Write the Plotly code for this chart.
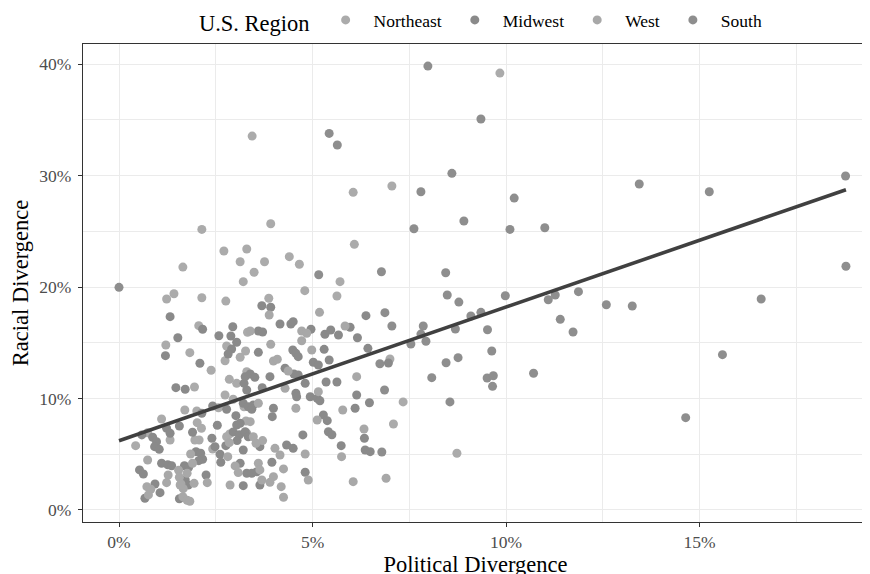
import numpy as np
import plotly.graph_objects as go

# Political divergence (%) , Racial divergence (%) per area, grouped by U.S. region
northeast = [
    (9.84, 39.19), (3.44, 33.54), (6.05, 28.49), (7.05, 29.06), (3.92, 25.68), (2.14, 25.17),
    (6.08, 23.83), (7.00, 13.54), (7.34, 9.69), (7.09, 7.71), (8.73, 5.09), (2.71, 23.23),
    (3.30, 23.41), (3.13, 22.27), (1.65, 21.79), (3.21, 20.48), (1.23, 18.92), (1.42, 19.40),
    (2.14, 19.04), (2.76, 18.74), (3.76, 22.27), (3.49, 21.32), (4.40, 22.72), (4.66, 22.04),
    (5.71, 20.48), (4.80, 19.67), (5.63, 19.19), (3.87, 18.99), (2.06, 16.53), (3.32, 15.94),
    (1.21, 14.80), (1.83, 14.11), (2.78, 14.71), (2.74, 13.39), (3.27, 14.26), (3.13, 13.70),
    (2.38, 12.53), (3.30, 12.40), (2.85, 11.72), (3.04, 11.36), (1.95, 11.03), (2.74, 10.31),
    (2.95, 9.93), (1.70, 8.97), (2.01, 8.88), (2.57, 9.17), (3.23, 9.26), (1.10, 8.16),
    (2.02, 7.83), (2.13, 7.33), (3.28, 7.98), (2.07, 6.28), (2.86, 6.82), (2.78, 6.57),
    (3.30, 6.88), (0.74, 6.93), (0.43, 5.77), (1.32, 6.28), (1.96, 6.28), (2.42, 5.47),
]
midwest = [
    (3.69, 18.32), (3.92, 18.18), (1.32, 17.34), (2.16, 16.21), (2.94, 16.44), (2.58, 15.63),
    (2.89, 15.61), (3.04, 15.04), (1.52, 15.45), (1.20, 13.84), (2.91, 14.44), (2.82, 13.99),
    (2.09, 13.16), (3.26, 11.96), (1.47, 10.97), (1.71, 10.83), (3.30, 10.76), (2.14, 8.67),
    (2.42, 9.33), (2.78, 9.03), (3.02, 8.46), (1.56, 7.53), (2.54, 7.60), (3.04, 7.62),
    (1.23, 7.33), (1.32, 6.88), (1.90, 6.97), (2.95, 7.00), (3.11, 6.75), (0.59, 6.73),
    (0.87, 6.52), (0.97, 6.13), (0.92, 5.68), (1.04, 5.44), (2.40, 6.43), (2.48, 5.68),
    (2.61, 5.00), (2.76, 5.77), (3.05, 6.22), (3.21, 5.38), (1.99, 5.23), (2.11, 5.09),
    (2.16, 4.55), (1.10, 4.19), (1.26, 4.06), (1.36, 3.97), (1.69, 3.97), (1.80, 3.83),
    (2.06, 4.42), (2.25, 3.14), (2.63, 4.28), (3.13, 4.19), (3.30, 3.29), (0.53, 3.59),
    (0.63, 3.23), (1.71, 2.72), (1.79, 2.24), (3.21, 2.18), (0.93, 2.33), (1.06, 1.55),
    (0.67, 1.05), (1.56, 1.01), (6.38, 17.43), (4.16, 16.68), (4.44, 16.68), (4.50, 16.89),
    (3.60, 16.05), (3.71, 15.96), (4.96, 16.21), (5.32, 15.76), (5.47, 16.14), (5.67, 15.70),
    (5.97, 16.39), (6.16, 15.45), (5.30, 14.41), (6.43, 14.50), (3.60, 14.14), (4.49, 14.35),
    (4.57, 14.05), (4.63, 13.75), (5.02, 13.25), (5.15, 13.00), (5.43, 13.45), (3.39, 12.20),
    (3.51, 11.90), (3.90, 11.96), (4.29, 12.71), (4.52, 12.20), (4.63, 12.11), (4.81, 11.36),
    (5.35, 11.48), (5.63, 11.48), (6.96, 13.18), (3.23, 11.36), (3.70, 10.97), (4.57, 10.47),
    (4.59, 10.16), (4.94, 10.16), (5.12, 10.02), (5.19, 9.80), (6.14, 10.31), (6.47, 9.62),
    (3.21, 9.57), (3.34, 9.26), (3.47, 9.42), (3.43, 9.03), (3.99, 9.12), (3.96, 8.37),
    (6.10, 9.12), (5.28, 8.52), (5.38, 8.01), (3.13, 7.78), (4.75, 6.73), (3.26, 7.02),
    (3.34, 6.57), (5.41, 7.02), (5.50, 6.75), (5.74, 5.77), (6.34, 6.43), (6.36, 5.38),
    (6.49, 5.23), (3.64, 5.68), (4.33, 5.83), (4.50, 5.53), (3.95, 4.28), (3.43, 3.29),
    (3.56, 3.43), (4.81, 3.38), (3.64, 2.24),
]
west = [
    (2.85, 6.04), (1.85, 5.02), (0.74, 4.48), (1.54, 3.56), (1.76, 3.29), (1.90, 4.19),
    (2.81, 4.78), (3.00, 3.95), (3.08, 3.35), (1.27, 3.14), (1.23, 2.45), (1.56, 2.93),
    (1.60, 2.33), (1.94, 2.39), (2.28, 2.45), (2.87, 2.24), (0.72, 2.09), (0.82, 1.86),
    (0.76, 1.35), (1.66, 1.91), (1.65, 1.19), (1.76, 0.87), (1.83, 0.78), (1.58, 2.24),
    (3.88, 17.49), (5.18, 17.73), (3.39, 16.05), (4.72, 16.05), (4.85, 15.85), (5.84, 16.50),
    (3.92, 14.86), (4.72, 15.18), (4.98, 14.35), (3.99, 13.36), (4.09, 13.52), (4.37, 12.47),
    (6.14, 11.96), (4.29, 10.91), (5.15, 10.61), (3.60, 9.57), (4.57, 9.12), (5.78, 8.97),
    (5.12, 8.07), (3.39, 7.92), (3.47, 6.57), (6.33, 7.26), (3.54, 5.98), (3.71, 6.22),
    (4.03, 5.53), (4.16, 4.93), (4.81, 5.02), (5.75, 4.78), (3.60, 4.19), (3.64, 3.59),
    (4.25, 3.68), (3.69, 2.69), (3.99, 2.99), (3.90, 2.48), (4.19, 2.09), (4.89, 2.69),
    (6.05, 2.54), (6.90, 2.84), (4.25, 1.14),
]
south = [
    (0.00, 19.97), (7.98, 39.82), (9.35, 35.07), (5.43, 33.78), (5.64, 32.74), (7.80, 28.55),
    (8.60, 30.20), (13.44, 29.24), (15.25, 28.55), (18.77, 29.96), (18.78, 21.86), (8.91, 25.92),
    (7.62, 25.23), (10.21, 27.98), (10.10, 25.17), (11.00, 25.32), (8.44, 21.28), (6.78, 21.37),
    (5.16, 21.10), (8.48, 19.28), (8.78, 18.65), (9.98, 19.22), (11.09, 18.86), (11.27, 19.28),
    (11.87, 19.58), (12.59, 18.41), (13.26, 18.30), (16.59, 18.92), (11.73, 15.96), (15.59, 13.93),
    (14.64, 8.28), (6.87, 17.70), (7.05, 16.50), (9.09, 17.40), (9.35, 17.73), (7.86, 16.50),
    (7.80, 15.78), (8.69, 16.23), (9.52, 16.17), (11.40, 17.10), (7.54, 14.89), (7.93, 15.13),
    (6.74, 13.12), (8.45, 13.21), (8.76, 13.66), (9.63, 14.26), (8.08, 11.87), (9.51, 11.84),
    (9.67, 12.04), (9.65, 11.09), (10.71, 12.26), (6.86, 10.76), (8.55, 9.69), (6.79, 5.20),
]

regions = ["Northeast", "Midwest", "West", "South"]
region_points = [northeast, midwest, west, south]
region_colors = ["#ABABAB", "#8A8A8A", "#A8A8A8", "#8E8E8E"]

x_ticks = [0, 5, 10, 15]
x_ticklabels = ["0%", "5%", "10%", "15%"]
y_ticks = [0, 10, 20, 30, 40]
y_ticklabels = ["0%", "10%", "20%", "30%", "40%"]

FONT = "Liberation Serif"

fig = go.Figure()
all_x, all_y = [], []
for name, pts, col in zip(regions, region_points, region_colors):
    xs = [p[0] for p in pts]
    ys = [p[1] for p in pts]
    all_x += xs
    all_y += ys
    fig.add_trace(go.Scatter(
        x=xs, y=ys, mode="markers", name=name,
        marker=dict(size=9, color=col, line=dict(width=0)),
    ))

# Linear fit (geom_smooth method = lm)
slope, intercept = np.polyfit(all_x, all_y, 1)
fx = np.array([min(all_x), max(all_x)])
fig.add_trace(go.Scatter(
    x=fx, y=intercept + slope * fx, mode="lines", showlegend=False,
    line=dict(color="#404040", width=3.6), hoverinfo="skip",
))

axis_common = dict(
    showline=True, linecolor="#333333", linewidth=1.1, mirror=True,
    ticks="outside", ticklen=4, tickwidth=1.1, tickcolor="#333333",
    showgrid=True, gridcolor="#EBEBEB", gridwidth=1.1, zeroline=False,
    automargin=False,
    tickfont=dict(family=FONT, size=17.5, color="#4D4D4D"),
)

# the page body adds an 8px offset, margins compensate for it
fig.update_layout(
    width=870, height=574,
    margin=dict(l=75, r=10, t=36, b=60, autoexpand=False),
    paper_bgcolor="white", plot_bgcolor="white",
    font=dict(family=FONT, color="black"),
    xaxis=dict(
        range=[-0.93, 19.35], tickmode="array", tickvals=x_ticks, ticktext=x_ticklabels,
        minor=dict(tickvals=[2.5, 7.5, 12.5, 17.5], showgrid=True, gridcolor="#EBEBEB", gridwidth=0.6, ticks=""),
        title=dict(text="Political Divergence", font=dict(family=FONT, size=22.5, color="black"), standoff=2),
        **axis_common,
    ),
    yaxis=dict(
        range=[-1.08, 41.8], tickmode="array", tickvals=y_ticks, ticktext=y_ticklabels,
        ticklabelstandoff=3,
        minor=dict(tickvals=[5, 15, 25, 35], showgrid=True, gridcolor="#EBEBEB", gridwidth=0.6, ticks=""),
        title=dict(text="Racial Divergence", font=dict(family=FONT, size=22.5, color="black"), standoff=5),
        **axis_common,
    ),
    legend=dict(
        orientation="h", xref="container", yref="container",
        x=0.5448, xanchor="center", y=0.9756, yanchor="middle",
        title=dict(text="U.S. Region", font=dict(family=FONT, size=22.5, color="black")),
        font=dict(family=FONT, size=17.5, color="black"),
        bgcolor="rgba(0,0,0,0)", itemwidth=46,
    ),
)

fig.write_html("out.html")
